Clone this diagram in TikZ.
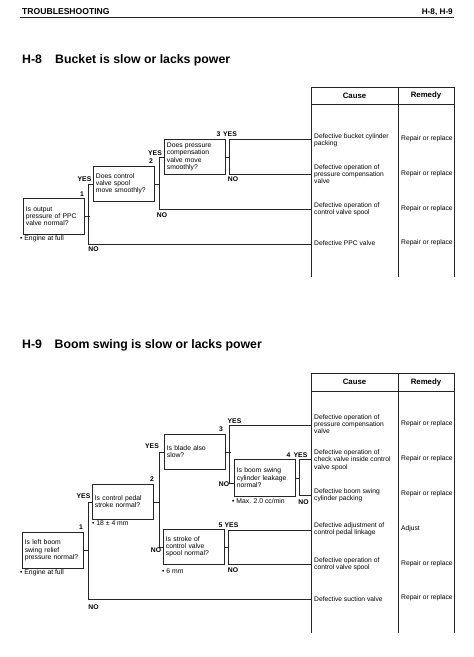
\documentclass[tikz,border=0pt]{standalone}
\usepackage{fontspec}
\setmainfont{Liberation Sans}
\begin{document}
\begin{tikzpicture}[x=1pt,y=-1pt,
  ln/.style={line width=0.7pt, draw=black!85},
  tl/.style={line width=0.9pt, draw=black!85},
  qbox/.style={draw=black!85, line width=0.7pt, anchor=north west, minimum height=35pt,
     text width=56pt, inner xsep=2.5pt, inner ysep=0pt, align=left,
     font=\fontsize{6.8}{7.3}\selectfont},
  lab/.style={font=\bfseries\fontsize{6.8}{7}\selectfont, inner sep=0pt},
  note/.style={font=\fontsize{6.8}{7.3}\selectfont, inner sep=0pt, anchor=west},
  cell/.style={font=\fontsize{6.7}{7.3}\selectfont, inner sep=0pt, anchor=west, align=left},
  hcell/.style={font=\bfseries\fontsize{7.8}{8}\selectfont, inner sep=0pt},
  ttl/.style={font=\bfseries\fontsize{12.3}{14}\selectfont, inner sep=0pt, anchor=base west}
]
\useasboundingbox (0,0) rectangle (474,657);

% header
\node[inner sep=0pt, anchor=base west, font=\bfseries\fontsize{8.6}{9}\selectfont] (hd) at (22,14.5) {TROUBLESHOOTING};
\node[inner sep=0pt, anchor=base east, font=\bfseries\fontsize{8.2}{9}\selectfont] (hdr) at (453,14.5) {H-8, H-9};
\draw[line width=1pt, black!85] (20,17.5) -- (454,17.5);

% ================= H-8 =================
\node[ttl] (t8a) at (22,63.5) {H-8};
\node[ttl] (t8b) at (55,63.5) {Bucket is slow or lacks power};

% table
\draw[tl] (311,277) -- (311,87) -- (454,87) -- (454,277);
\draw[tl] (398,87) -- (398,277);
\draw[tl] (311,104) -- (454,104);
\node[hcell] (c8h) at (354.5,95.5) {Cause};
\node[hcell] (r8h) at (426,95.5) {Remedy};
\coordinate (e1) at (311,139);
\coordinate (e2) at (311,174);
\coordinate (e3) at (311,209);
\coordinate (e4) at (311,244);
\node[cell] (c81) at (314,140) {Defective bucket cylinder\\packing};
\node[cell] (c82) at (314,174) {Defective operation of\\pressure compensation\\valve};
\node[cell] (c83) at (314,209) {Defective operation of\\control valve spool};
\node[cell] (c84) at (314,243) {Defective PPC valve};
\node[cell] (r81) at (401,139) {Repair or replace};
\node[cell] (r82) at (401,174) {Repair or replace};
\node[cell] (r83) at (401,209) {Repair or replace};
\node[cell] (r84) at (401,243) {Repair or replace};

% boxes
\node[qbox, minimum height=36pt] (a1) at (23,198) {Is output\\pressure of PPC\\valve normal?};
\node[qbox] (a2) at (93,166) {Does control\\valve spool\\move smoothly?};
\node[qbox] (a3) at (164,139) {Does pressure\\compensation\\valve move\\smoothly?};

% connectors
\draw[ln] (a1.east) -- ++(5,0);
\draw[ln] (a2.west) -- ++(-5,0) |- (e4);
\draw[ln] (a2.east) -- ++(5,0);
\draw[ln] (a3.west) -- ++(-5,0) |- (e3);
\draw[ln] (a3.east) -- ++(4,0);
\draw[ln] (e1) -| (229,174) -- (e2);

% labels
\node[lab] (n81) at (82,194) {1};
\node[lab] (y81) at (84.5,179) {YES};
\node[lab] (o81) at (93.5,249) {NO};
\node[lab] (n82) at (151,161) {2};
\node[lab] (y82) at (155,153) {YES};
\node[lab] (o82) at (162,215) {NO};
\node[lab] (n83) at (218.5,134) {3};
\node[lab] (y83) at (230,134) {YES};
\node[lab] (o83) at (233,179) {NO};
\node[note] (m81) at (20,239) {• Engine at full};

% ================= H-9 =================
\node[ttl] (t9a) at (22,348.3) {H-9};
\node[ttl] (t9b) at (54.5,348.3) {Boom swing is slow or lacks power};

% table
\draw[tl] (311,633) -- (311,373) -- (454,373) -- (454,633);
\draw[tl] (398,373) -- (398,633);
\draw[tl] (311,391) -- (454,391);
\node[hcell] (c9h) at (354.5,382) {Cause};
\node[hcell] (r9h) at (426,382) {Remedy};
\coordinate (u1) at (311,425);
\coordinate (u2) at (311,459);
\coordinate (u3) at (311,495);
\coordinate (u4) at (311,530);
\coordinate (u5) at (311,564);
\coordinate (u6) at (311,599);
\node[cell] (c91) at (314,424) {Defective operation of\\pressure compensation\\valve};
\node[cell] (c92) at (314,460) {Defective operation of\\check valve inside control\\valve spool};
\node[cell] (c93) at (314,495) {Defective boom swing\\cylinder packing};
\node[cell] (c94) at (314,529.5) {Defective adjustment of\\control pedal linkage};
\node[cell] (c95) at (314,564.5) {Defective operation of\\control valve spool};
\node[cell] (c96) at (314,599) {Defective suction valve};
\node[cell] (r91) at (401,424) {Repair or replace};
\node[cell] (r92) at (401,459) {Repair or replace};
\node[cell] (r93) at (401,493.5) {Repair or replace};
\node[cell] (r94) at (401,528.5) {Adjust};
\node[cell] (r95) at (401,563.5) {Repair or replace};
\node[cell] (r96) at (401,598) {Repair or replace};

% boxes
\node[qbox, minimum height=36pt] (b1) at (22,532) {Is left boom\\swing relief\\pressure normal?};
\node[qbox] (b2) at (92,484) {Is control pedal\\stroke normal?};
\node[qbox] (b3) at (164,434) {Is blade also\\slow?};
\node[qbox, minimum height=37pt] (b4) at (234,459) {Is boom swing\\cylinder leakage\\normal?};
\node[qbox] (b5) at (163,529) {Is stroke of\\control valve\\spool normal?};

% connectors
\draw[ln] (b1.east) -- ++(5,0);
\draw[ln] (b2.west) -- ++(-4,0) |- (u6);
\draw[ln] (b2.east) -- ++(5,0);
\draw[ln] (b3.west) -- ++(-5,0) |- (b5.west);
\draw[ln] (b3.east) -- ++(5,0);
\draw[ln] ([yshift=-5pt]b4.west) -- ++(-5,0) |- (u1);
\draw[ln] (b4.east) -- ++(4,0);
\draw[ln] (u2) -| (299,495) -- (u3);
\draw[ln] (b5.east) -- ++(4,0);
\draw[ln] (u4) -| (228,564) -- (u5);

% labels
\node[lab] (n91) at (81,527) {1};
\node[lab] (y91) at (83.5,496) {YES};
\node[lab] (o91) at (93.5,607) {NO};
\node[lab] (n92) at (152,479) {2};
\node[lab] (y92) at (152,446.5) {YES};
\node[lab] (o92) at (156,550) {NO};
\node[lab] (n93) at (221,429) {3};
\node[lab] (y93) at (234.5,421) {YES};
\node[lab] (o93) at (224,484) {NO};
\node[lab] (n94) at (288.5,455.5) {4};
\node[lab] (y94) at (300.5,455.5) {YES};
\node[lab] (o94) at (303.5,502) {NO};
\node[lab] (n95) at (220.5,525) {5};
\node[lab] (y95) at (231.5,525) {YES};
\node[lab] (o95) at (233,570) {NO};
\node[note] (m91) at (20,573) {• Engine at full};
\node[note] (m92) at (92,523) {• 18 ± 4 mm};
\node[note] (m93) at (232,501) {• Max. 2.0 cc/min};
\node[note] (m94) at (162,571) {• 6 mm};
\end{tikzpicture}
\end{document}
